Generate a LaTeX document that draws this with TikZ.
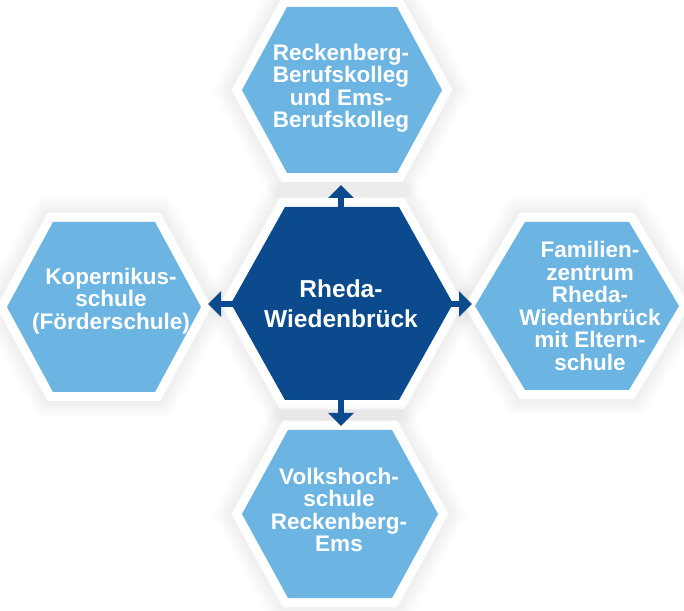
\documentclass[tikz,border=0pt]{standalone}
\usepackage{fontspec}
\setmainfont{Liberation Sans}
\usetikzlibrary{arrows.meta}
\definecolor{hexlight}{HTML}{6CB5E2}
\definecolor{hexdark}{HTML}{0B4A8C}
% hexagon path: cx cy rx halftop h offset
\newcommand\hexp[6]{({#1+#3+1.155*#6},{#2}) -- ({#1+#4+0.577*#6},{#2+#5+#6}) -- ({#1-#4-0.577*#6},{#2+#5+#6}) -- ({#1-#3-1.155*#6},{#2}) -- ({#1-#4-0.577*#6},{#2-#5-#6}) -- ({#1+#4+0.577*#6},{#2-#5-#6}) -- cycle}
\newcommand\hexbg[5]{%
  \foreach \d in {25,22,19,16,13}{\fill[black,opacity=0.012] \hexp{#1}{#2}{#3}{#4}{#5}{\d};}
  \fill[white] \hexp{#1}{#2}{#3}{#4}{#5}{9};}
\tikzset{
  arr/.style={draw=hexdark,line width=6pt,-{Triangle[width=25pt,length=13pt]}},
  outtxt/.style={text=white,align=center,inner sep=0pt,font=\bfseries\fontsize{22.5}{22.5}\selectfont},
  centxt/.style={text=white,align=center,inner sep=0pt,font=\bfseries\fontsize{24.5}{30}\selectfont}
}
\begin{document}
\begin{tikzpicture}[x=1pt,y=1pt]
\useasboundingbox (0,0) rectangle (684,610);
% backgrounds (glow + white border)
\hexbg{342}{306.5}{111}{57}{96.5}
\hexbg{342}{520}{100}{55}{83}
\hexbg{104}{303}{97}{51}{85}
\hexbg{577}{304}{102}{52}{84}
\hexbg{340}{96}{98}{52}{84}
% hexagon fills
\fill[hexdark] \hexp{342}{306.5}{111}{57}{96.5}{0};
\fill[hexlight] \hexp{342}{520}{100}{55}{83}{0};
\fill[hexlight] \hexp{104}{303}{97}{51}{85}{0};
\fill[hexlight] \hexp{577}{304}{102}{52}{84}{0};
\fill[hexlight] \hexp{340}{96}{98}{52}{84}{0};
% texts
\node[centxt] (CT) at (341,306) {Rheda-\\Wiedenbrück};
\node[outtxt] (TT) at (341,522) {Reckenberg-\\Berufskolleg\\und Ems-\\Berufskolleg};
\node[outtxt] (LT) at (111,309) {Kopernikus-\\schule\\(Förderschule)};
\node[outtxt] (RT) at (590,304) {Familien-\\zentrum\\Rheda-\\Wiedenbrück\\mit Eltern-\\schule};
\node[outtxt] (BT) at (339,100) {Volkshoch-\\schule\\Reckenberg-\\Ems};
% arrow tips
\coordinate (tU) at (341,425);
\coordinate (tD) at (341,184);
\coordinate (tL) at (208,306);
\coordinate (tR) at (472,306);
\draw[arr] (CT.center) ++(0,97) coordinate (sU) (sU) -- (tU);
\draw[arr] (CT.center) ++(0,-95) coordinate (sD) (sD) -- (tD);
\draw[arr] (CT.center) ++(-108,0) coordinate (sL) (sL) -- (tL);
\draw[arr] (CT.center) ++(108,0) coordinate (sR) (sR) -- (tR);
\end{tikzpicture}
\end{document}
